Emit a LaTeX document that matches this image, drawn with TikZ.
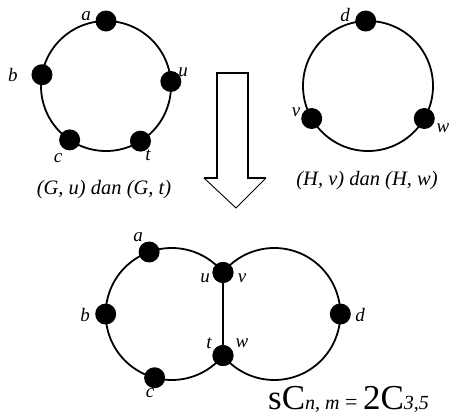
\documentclass[tikz,border=0pt]{standalone}
\usepackage{fontspec}
\setmainfont{Liberation Serif}
\begin{document}
\begin{tikzpicture}[x=1pt,y=-1pt,
  vtx/.style={circle,fill=black,inner sep=0pt,minimum size=21pt},
  lbl/.style={inner sep=0pt,font=\fontsize{19}{19}\selectfont\itshape},
  captxt/.style={inner sep=0pt,font=\fontsize{20.5}{20.5}\selectfont\itshape},
  cycline/.style={line width=1.8pt},
  arrowline/.style={line width=1.8pt,line join=miter},
  headline/.style={line width=0.9pt,line join=miter}]
\useasboundingbox (0,0) rectangle (452,416);
% ---- top-left cycle G
\coordinate (G) at (106,86);
\draw[cycline] (G) circle[radius=65];
\node[vtx] (Ga) at ([shift={(-90:65)}]G) {};
\node[vtx] (Gb) at ([shift={(-170:65)}]G) {};
\node[vtx] (Gu) at ([shift={(-4:65)}]G) {};
\node[vtx] (Gc) at ([shift={(-236:65)}]G) {};
\node[vtx] (Gt) at ([shift={(-302:65)}]G) {};
\node[lbl] (la1) at (86,16) {a};
\node[lbl] (lb1) at (13,75) {b};
\node[lbl] (lu1) at (183,72) {u};
\node[lbl] (lc1) at (58,158) {c};
\node[lbl] (lt1) at (148,155) {t};
\node[captxt] (capG) at (104,190) {(G, u) dan (G, t)};
% ---- top-right cycle H
\coordinate (H) at (368,86);
\draw[cycline] (H) circle[radius=65];
\node[vtx] (Hd) at ([shift={(-92:65)}]H) {};
\node[vtx] (Hv) at ([shift={(-210:65)}]H) {};
\node[vtx] (Hw) at ([shift={(-330:65)}]H) {};
\node[lbl] (ld1) at (345,15) {d};
\node[lbl] (lv1) at (296,112) {v};
\node[lbl] (lw1) at (443,128) {w};
\node[captxt] (capH) at (367,181) {(H, v) dan (H, w)};
% ---- arrow
\draw[arrowline] (204,178) -- (217,178) -- (217,73) -- (248,73) -- (248,178) -- (266,178);
\draw[headline] (204,178) -- (236,208) -- (266,178);
% ---- bottom graph
\coordinate (L) at (171.7,314);
\coordinate (R) at (274.3,314);
\node[vtx] (uv) at ([shift={(-39:66)}]L) {};
\node[vtx] (tw) at ([shift={(-321:66)}]L) {};
\draw[cycline] (uv.center) arc[start angle=-39,end angle=-321,radius=66];
\draw[cycline] (uv.center) arc[start angle=-141,end angle=141,radius=66];
\draw[cycline] (uv) -- (tw);
\node[vtx] (Ba) at ([shift={(-110:66)}]L) {};
\node[vtx] (Bb) at ([shift={(-180:66)}]L) {};
\node[vtx] (Bc) at ([shift={(-255:66)}]L) {};
\node[vtx] (Bd) at ([shift={(0:66)}]R) {};
\node[vtx] (uv2) at (uv) {};
\node[vtx] (tw2) at (tw) {};
\node[lbl] (la2) at (138,237) {a};
\node[lbl] (lb2) at (85,315) {b};
\node[lbl] (lc2) at (150,393) {c};
\node[lbl] (lu2) at (205,278) {u};
\node[lbl] (lv2) at (242,278) {v};
\node[lbl] (lt2) at (209,343) {t};
\node[lbl] (lw2) at (242,343) {w};
\node[lbl] (ld2) at (360,315) {d};
% ---- formula
\node[inner sep=0pt,anchor=base west] (form) at (268,409) {\fontsize{35}{35}\selectfont sC\fontsize{20}{20}\selectfont\itshape n, m\fontsize{22}{22}\selectfont\upshape{} = \fontsize{35}{35}\selectfont 2C\fontsize{20}{20}\selectfont\itshape 3,5};
\end{tikzpicture}
\end{document}
